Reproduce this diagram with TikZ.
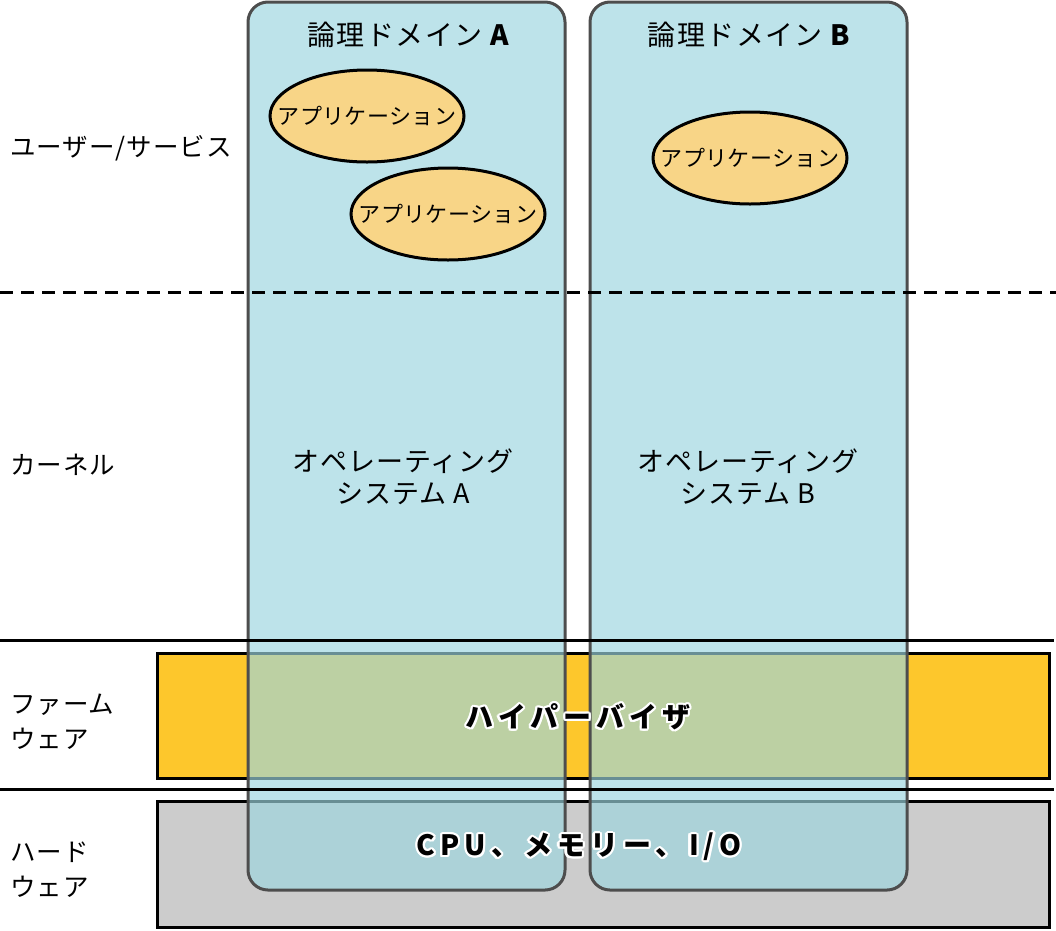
\documentclass[tikz,border=0pt]{standalone}
\usepackage{fontspec}
\setmainfont{Noto Sans CJK JP}
\usepackage{contour}
\contourlength{2.2pt}
\contournumber{16}
\usetikzlibrary{shapes.geometric}
\definecolor{domfill}{RGB}{156,213,223}
\definecolor{domline}{RGB}{77,77,77}
\definecolor{hypfill}{RGB}{253,199,44}
\definecolor{hwfill}{RGB}{204,204,204}
\definecolor{appfill}{RGB}{248,213,135}
\tikzset{
  layerbox/.style={draw=black, line width=3pt},
  domainbox/.style={draw=domline, line width=3pt, fill=domfill, fill opacity=0.667, rounded corners=20pt},
  appshape/.style={ellipse, draw=black, line width=3pt, fill=appfill, minimum width=194pt, minimum height=92pt, inner sep=0pt},
  apptext/.style={inner sep=0pt, font=\fontsize{22}{24}\selectfont\addfontfeature{LetterSpace=2}},
  sidelabel/.style={anchor=west, align=left, inner sep=0pt, font=\fontsize{25.5}{35}\selectfont\addfontfeature{LetterSpace=4}},
  titlelabel/.style={inner sep=0pt, font=\fontsize{28}{30}\selectfont\addfontfeature{LetterSpace=5}},
  oslabel/.style={inner sep=0pt, align=center, font=\fontsize{27}{32}\selectfont\addfontfeature{LetterSpace=3}},
  halolabel/.style={inner sep=0pt, font=\fontsize{28}{30}\selectfont\bfseries\addfontfeature{LetterSpace=18}},
  divider/.style={draw=black, line width=3pt},
  dashdivider/.style={draw=black, line width=3pt, dash pattern=on 13pt off 8pt}
}
\begin{document}
\begin{tikzpicture}[x=1pt, y=-1pt]
\useasboundingbox (0,0) rectangle (1056,930);
% layers
\path[layerbox, fill=hypfill] (157,653) rectangle (1049,778);
\path[layerbox, fill=hwfill] (157,801) rectangle (1049,927);
% domains
\path[domainbox] (248,2) rectangle (565,890);
\path[domainbox] (590,2) rectangle (907,890);
% titles
\node[titlelabel] (tA) at (408,35) {論理ドメイン {\bfseries A}};
\node[titlelabel] (tB) at (749,35) {論理ドメイン {\bfseries B}};
% applications
\node[appshape] (app1) at (367,116) {};
\node[appshape] (app2) at (448,214) {};
\node[appshape] (app3) at (750,158) {};
\node[apptext] (app1t) at (app1) {アプリケーション};
\node[apptext] (app2t) at (app2) {アプリケーション};
\node[apptext] (app3t) at (app3) {アプリケーション};
% OS
\node[oslabel] (osA) at (403,477) {オペレーティング\\システム A};
\node[oslabel] (osB) at (748,477) {オペレーティング\\システム B};
% side labels
\node[sidelabel] (lu) at (10,148) {ユーザー/サービス};
\node[sidelabel] (lk) at (10,465) {カーネル};
\node[sidelabel] (lf) at (10,722) {ファーム\\ウェア};
\node[sidelabel] (lh) at (10,870) {ハード\\ウェア};
% dividers
\coordinate (d1a) at (0,292); \coordinate (d1b) at (1056,292);
\coordinate (d2a) at (0,640); \coordinate (d2b) at (1054,640);
\coordinate (d3a) at (0,789); \coordinate (d3b) at (1054,789);
\draw[dashdivider] (d1a) -- (d1b);
\draw[divider] (d2a) -- (d2b);
\draw[divider] (d3a) -- (d3b);
% halo labels
\node[halolabel] (hyp) at (578,718) {\contour{white}{ハイパーバイザ}};
\node[halolabel] (hw) at (579,848) {\contour{white}{CPU、メモリー、I/O}};
\end{tikzpicture}
\end{document}
